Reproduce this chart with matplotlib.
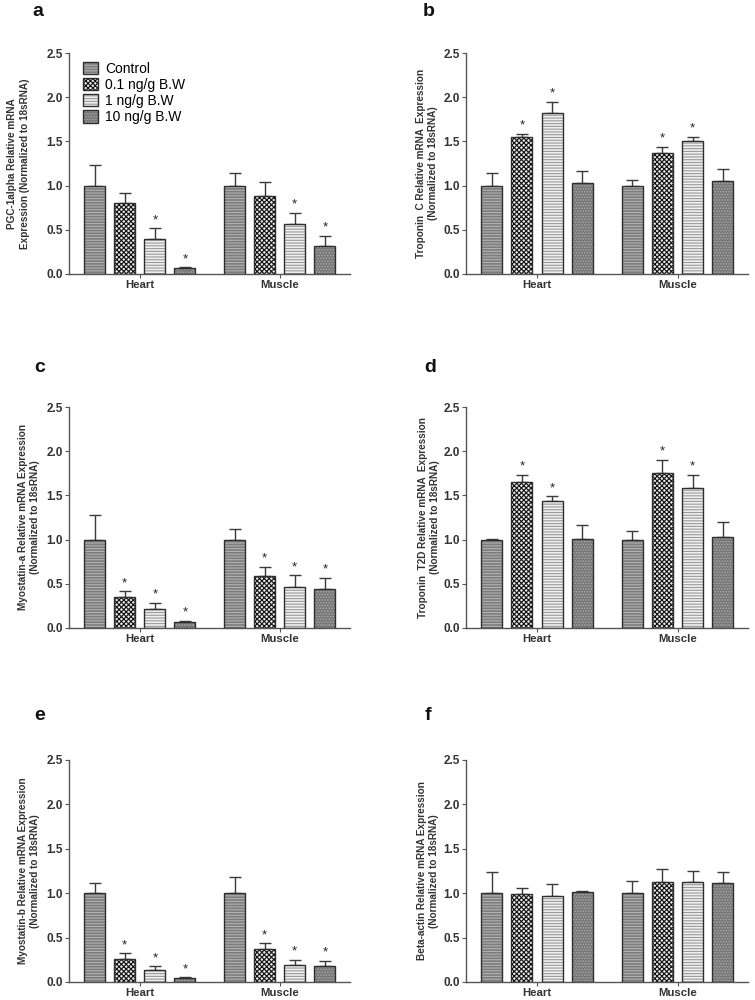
"""Six-panel grouped bar chart of relative mRNA expression (Heart / Muscle)."""
import matplotlib
matplotlib.use("Agg")
import matplotlib.pyplot as plt
from matplotlib.patches import Patch
from matplotlib.legend_handler import HandlerTuple

plt.rcParams['font.family'] = ['Liberation Sans', 'DejaVu Sans']
plt.rcParams['hatch.linewidth'] = 0.8

# ---- data -----------------------------------------------------------------
tissues = ['Heart', 'Muscle']
groups = ['Control', '0.1 ng/g B.W', '1 ng/g B.W', '10 ng/g B.W']

panel_letters = ['a', 'b', 'c', 'd', 'e', 'f']
ylabels = [
    'PGC-1alpha Relative mRNA\nExpression (Normalized to 18sRNA)',
    'Troponin  C Relative mRNA  Expression\n(Normalized to 18sRNA)',
    'Myostatin-a Relative mRNA Expression\n(Normalized to 18sRNA)',
    'Troponin  T2D Relative mRNA  Expression\n(Normalized to 18sRNA)',
    'Myostatin-b Relative mRNA Expression\n(Normalized to 18sRNA)',
    'Beta-actin Relative mRNA Expression\n(Normalized to 18sRNA)',
]

# means: [Heart x 4 groups, Muscle x 4 groups]
pgc_mean = [1.00, 0.80, 0.40, 0.065, 1.00, 0.886, 0.57, 0.313]
pgc_err = [0.237, 0.116, 0.12, 0.01, 0.14, 0.151, 0.12, 0.121]
pgc_sig = [0, 0, 1, 1, 0, 0, 1, 1]

tnc_mean = [1.00, 1.553, 1.817, 1.033, 1.00, 1.369, 1.505, 1.049]
tnc_err = [0.14, 0.031, 0.129, 0.132, 0.068, 0.068, 0.045, 0.139]
tnc_sig = [0, 1, 1, 0, 0, 1, 1, 0]

msta_mean = [1.00, 0.347, 0.211, 0.068, 1.00, 0.584, 0.468, 0.441]
msta_err = [0.282, 0.068, 0.076, 0.015, 0.124, 0.11, 0.128, 0.125]
msta_sig = [0, 1, 1, 1, 0, 1, 1, 1]

tnt_mean = [0.995, 1.648, 1.44, 1.003, 1.00, 1.753, 1.58, 1.03]
tnt_err = [0.015, 0.083, 0.05, 0.158, 0.094, 0.151, 0.151, 0.173]
tnt_sig = [0, 1, 1, 0, 0, 1, 1, 0]

mstb_mean = [1.00, 0.256, 0.132, 0.045, 1.00, 0.372, 0.192, 0.18]
mstb_err = [0.113, 0.067, 0.045, 0.011, 0.177, 0.064, 0.06, 0.06]
mstb_sig = [0, 1, 1, 1, 0, 1, 1, 1]

bact_mean = [1.00, 0.992, 0.974, 1.011, 1.00, 1.124, 1.124, 1.113]
bact_err = [0.24, 0.068, 0.124, 0.015, 0.143, 0.154, 0.128, 0.124]
bact_sig = [0, 0, 0, 0, 0, 0, 0, 0]

means = [pgc_mean, tnc_mean, msta_mean, tnt_mean, mstb_mean, bact_mean]
errors = [pgc_err, tnc_err, msta_err, tnt_err, mstb_err, bact_err]
sigs = [pgc_sig, tnc_sig, msta_sig, tnt_sig, mstb_sig, bact_sig]

# ---- styles ---------------------------------------------------------------
# (face colour, hatch colour, hatch)
styles = [
    ('#7c7c7c', '#b2b2b2', '------'),
    ('#e6e6e6', '#111111', 'xxxxxxx'),
    ('#f0f0f0', '#9a9a9a', '------'),
    ('#767676', '#a9a9a9', '......'),
]
edge = '#2e2e2e'
group_gap = 4.65
offsets = [-1.5, -0.5, 0.5, 1.5]
width = 0.7

# axes rectangles (left, bottom, width, height) in figure fractions
rects = [
    (0.0914, 0.726, 0.372, 0.221),
    (0.6172, 0.726, 0.3735, 0.221),
    (0.0914, 0.372, 0.372, 0.221),
    (0.6172, 0.372, 0.3735, 0.221),
    (0.0914, 0.018, 0.372, 0.222),
    (0.6172, 0.018, 0.3735, 0.222),
]
label_x = [-0.14, -0.099, -0.103, -0.092, -0.103, -0.096]
letter_pos = [(38, 12), (429, 12), (40, 368), (430, 368), (40, 715), (428, 715)]

fig = plt.figure(figsize=(7.55, 10), dpi=100)

for p in range(6):
    ax = fig.add_axes(rects[p])
    for g in range(4):
        xs = [t * group_gap + offsets[g] for t in range(2)]
        ys = [means[p][t * 4 + g] for t in range(2)]
        es = [errors[p][t * 4 + g] for t in range(2)]
        face, hcol, hatch = styles[g]
        ax.bar(xs, ys, width=width, color=face, edgecolor=hcol, hatch=hatch,
               linewidth=0, zorder=2)
        ax.bar(xs, ys, width=width, fill=False, edgecolor=edge, linewidth=1.0,
               zorder=3)
        ax.errorbar(xs, ys, yerr=[[0, 0], es], fmt='none', ecolor='#3a3a3a',
                    elinewidth=1.0, capsize=4, capthick=1.0, zorder=1)
        for t in range(2):
            if sigs[p][t * 4 + g]:
                ax.annotate('*', (xs[t], ys[t] + es[t]), xytext=(0, 1.5),
                            textcoords='offset points', ha='center', va='bottom',
                            fontsize=9.5, color='#222222')

    ax.set_xlim(-2.35, 6.98)
    ax.set_ylim(0, 2.5)
    ax.set_yticks([0, 0.5, 1.0, 1.5, 2.0, 2.5])
    ax.set_yticklabels(['0.0', '0.5', '1.0', '1.5', '2.0', '2.5'])
    ax.set_xticks([0, group_gap])
    ax.set_xticklabels(tissues)
    for s in ['top', 'right']:
        ax.spines[s].set_visible(False)
    for s in ['left', 'bottom']:
        ax.spines[s].set_color('#555555')
        ax.spines[s].set_linewidth(1.0)
    ax.tick_params(axis='both', colors='#555555', length=3, width=0.8,
                   labelcolor='#333333', pad=1.5)
    ax.tick_params(axis='y', labelsize=8.5)
    ax.tick_params(axis='x', labelsize=8.2)
    for lbl in ax.get_xticklabels() + ax.get_yticklabels():
        lbl.set_fontweight('bold')
    ax.set_ylabel(ylabels[p], fontsize=7.2, fontweight='bold', color='#333333',
                  linespacing=1.3)
    ax.yaxis.set_label_coords(label_x[p], 0.5)

    lx, ly = letter_pos[p]
    fig.text(lx / 755, 1 - ly / 1000, panel_letters[p], fontsize=14,
             fontweight='bold', ha='center', va='center', color='#111111')

    if p == 0:
        handles = []
        for face, hcol, hatch in styles:
            h_fill = Patch(facecolor=face, edgecolor=hcol, hatch=hatch, linewidth=0)
            h_edge = Patch(fill=False, edgecolor=edge, linewidth=1.0)
            handles.append((h_fill, h_edge))
        ax.legend(handles, groups, handler_map={tuple: HandlerTuple(ndivide=1)},
                  loc='upper left', bbox_to_anchor=(0.03, 0.985), frameon=False,
                  fontsize=10, handlelength=1.1, handleheight=1.0,
                  handletextpad=0.5, labelspacing=0.15, borderaxespad=0)

fig.savefig('out.png', dpi=100, facecolor='white')
